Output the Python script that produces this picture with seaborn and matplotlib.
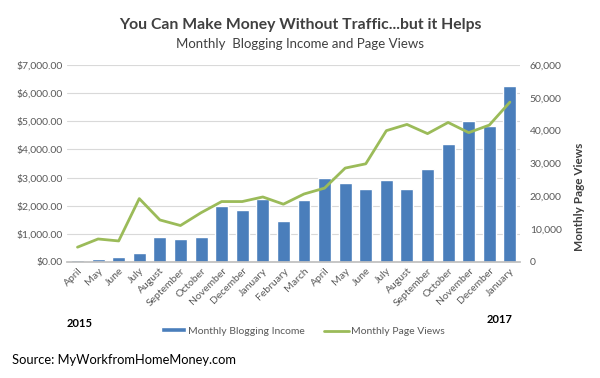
import matplotlib.pyplot as plt
import seaborn as sns
import pandas as pd
import numpy as np
from matplotlib.ticker import FuncFormatter
from matplotlib.patches import Patch
from matplotlib.lines import Line2D

months = ["April", "May", "June", "July", "August", "September", "October",
          "November", "December", "January", "February", "March", "April",
          "May", "June", "July", "August", "September", "October",
          "November", "December", "January"]
income = [70, 120, 180, 320, 870, 810, 870, 1980, 1840, 2250, 1450, 2200,
          2980, 2810, 2590, 2910, 2590, 3300, 4190, 5020, 4820, 6240]
page_views = [4500, 7000, 6400, 19300, 12800, 11100, 15000, 18400, 18400,
              19800, 17600, 20700, 22500, 28600, 29900, 40000, 41900, 39100,
              42500, 39400, 41700, 48700]

df = pd.DataFrame({"pos": np.arange(len(months)), "month": months,
                   "income": income, "views": page_views})

bar_color = "#4A7EBB"
line_color = "#9BBB59"
text_color = "#595959"

sns.set_theme(style="white")
plt.rcParams["font.family"] = ["Lato", "DejaVu Sans"]

fig = plt.figure(figsize=(6, 3.78), dpi=100)
ax = fig.add_axes([0.112, 0.307, 0.755, 0.521])

# bars: monthly income (left axis)
sns.barplot(data=df, x="pos", y="income", color=bar_color, width=0.63,
            saturation=1, ax=ax)
ax.set_xlim(-0.5, len(months) - 0.5)
ax.set_ylim(0, 7000)
ax.set_yticks(np.arange(0, 7001, 1000))
ax.yaxis.set_major_formatter(FuncFormatter(lambda v, p: f"${v:,.2f}"))
ax.set_xticks(df["pos"])
ax.set_xticklabels(months, rotation=45, ha="right", rotation_mode="anchor")
ax.set_xlabel("")
ax.set_ylabel("")
ax.grid(axis="y", color="#D9D9D9", linewidth=0.8)
ax.set_axisbelow(True)
for s in ["top", "right", "left"]:
    ax.spines[s].set_visible(False)
ax.spines["bottom"].set_color("#BFBFBF")
ax.tick_params(axis="both", labelsize=7.5, colors=text_color, length=0, pad=3)

# line: page views (right axis)
ax2 = ax.twinx()
sns.lineplot(data=df, x="pos", y="views", color=line_color, linewidth=2, ax=ax2)
ax2.set_ylim(0, 60000)
ax2.set_yticks(np.arange(0, 60001, 10000))
ax2.yaxis.set_major_formatter(FuncFormatter(lambda v, p: f"{v:,.0f}"))
ax2.set_xlim(-0.5, len(months) - 0.5)
for s in ["top", "right", "left", "bottom"]:
    ax2.spines[s].set_visible(False)
ax2.tick_params(axis="y", labelsize=7.5, colors=text_color, length=0, pad=7)
ax2.set_xlabel("")
ax2.set_ylabel("")
fig.text(0.966, 0.48, "Monthly Page Views", rotation=90, ha="center", va="center",
         fontsize=8.5, fontweight="bold", color="#404040")

fig.text(0.5, 0.935, "You Can Make Money Without Traffic...but it Helps",
         ha="center", va="center", fontsize=11.3, fontweight="bold", color="#404040")
fig.text(0.5, 0.883, "Monthly  Blogging Income and Page Views",
         ha="center", va="center", fontsize=9.5, color="#404040")

fig.text(0.1325, 0.1455, "2015", ha="center", va="center", fontsize=8,
         fontweight="bold", color="black")
fig.text(0.832, 0.156, "2017", ha="center", va="center", fontsize=8,
         fontweight="bold", color="black")

handles = [Patch(facecolor=bar_color, label="Monthly Blogging Income"),
           Line2D([0], [0], color=line_color, linewidth=2, label="Monthly Page Views")]
leg = fig.legend(handles=handles, loc="center", bbox_to_anchor=(0.505, 0.124), ncol=2,
                 frameon=False, fontsize=7.5, handlelength=2.4, handleheight=0.35,
                 columnspacing=1.8, handletextpad=0.2)
for t in leg.get_texts():
    t.set_color(text_color)

fig.text(0.02, 0.048, "Source: MyWorkfromHomeMoney.com", ha="left", va="center",
         fontsize=9.3, color="black")

plt.savefig("out.png", dpi=100)
